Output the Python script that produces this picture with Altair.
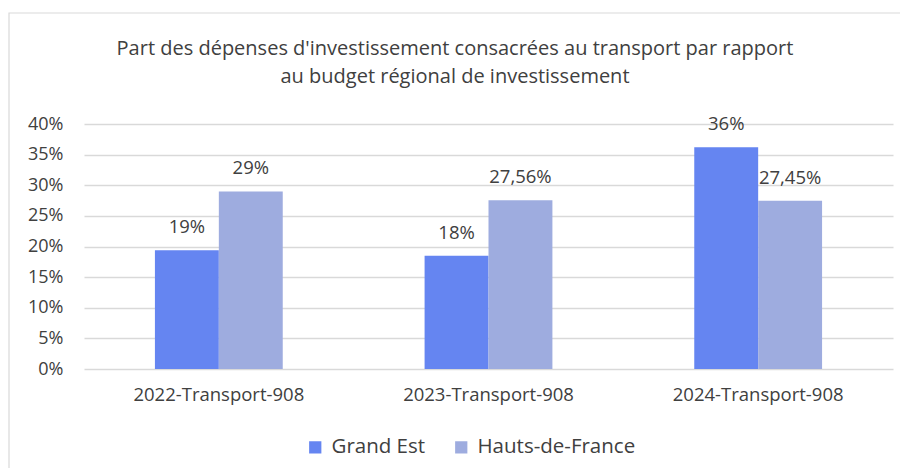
import altair as alt
import pandas as pd

categories = ["2022-Transport-908", "2023-Transport-908", "2024-Transport-908"]
series = ["Grand Est", "Hauts-de-France"]
grand_est = [19.4, 18.5, 36.2]
hauts_de_france = [29.0, 27.56, 27.45]
grand_est_labels = ["19%", "18%", "36%"]
hdf_labels = ["29%", "27,56%", "27,45%"]
colors = ["#6585f1", "#9eacdf"]
title_lines = ["Part des dépenses d'investissement consacrées au transport par rapport",
               "au budget régional de investissement"]

rows = []
for i, c in enumerate(categories):
    rows.append({"cat": c, "serie": series[0], "val": grand_est[i] / 100, "label": grand_est_labels[i]})
    rows.append({"cat": c, "serie": series[1], "val": hauts_de_france[i] / 100, "label": hdf_labels[i]})
df = pd.DataFrame(rows)

FONT = "Open Sans"
TXT = "#404040"

x = alt.X("cat:N", sort=categories, title=None,
          scale=alt.Scale(paddingInner=0.526, paddingOuter=0.263),
          axis=alt.Axis(labelAngle=0, labelFontSize=18.5, labelColor=TXT, labelFont=FONT,
                        ticks=False, domain=False, labelPadding=16))
xo = alt.XOffset("serie:N", sort=series)
y = alt.Y("val:Q", title=None,
          scale=alt.Scale(domain=[0, 0.4]),
          axis=alt.Axis(format=".0%", values=[i * 0.05 for i in range(9)], labelFontSize=18,
                        labelColor=TXT, labelFont=FONT, ticks=False, domain=False,
                        gridColor="#d9d9d9", gridWidth=1.5, labelPadding=21))

base = alt.Chart(df)
bars = base.mark_bar().encode(
    x=x, xOffset=xo, y=y,
    color=alt.Color("serie:N", sort=series, scale=alt.Scale(domain=series, range=colors),
                    legend=alt.Legend(title=None, orient="none", direction="horizontal",
                                      legendX=221, legendY=313, symbolType="square",
                                      symbolSize=150, symbolStrokeWidth=0, symbolOpacity=1,
                                      labelFontSize=20.5, labelColor=TXT, labelFont=FONT,
                                      labelLimit=400, columnPadding=25, labelOffset=6)),
)
labels = base.mark_text(baseline="alphabetic", dy=-17, fontSize=18.5, color=TXT, font=FONT).encode(
    x=x, xOffset=xo, y=y, text="label:N"
)
one = pd.DataFrame({"k": [0]})
frame = alt.Chart(one).mark_rect(fill=None, stroke="#d9d9d9", strokeWidth=1.2).encode(
    x=alt.value(-75), x2=alt.value(840), y=alt.value(-111), y2=alt.value(380)
)
title = alt.Chart(one).mark_text(text=title_lines, fontSize=20, font=FONT, color=TXT,
                                  lineHeight=28, align="center", baseline="middle").encode(
    x=alt.value(371), y=alt.value(-75)
)

chart = alt.layer(frame, title, bars, labels).properties(
    width=809, height=245,
    autosize=alt.AutoSizeParams(type="none"),
    padding={"left": 76, "top": 116, "right": 7, "bottom": 99},
).configure_view(stroke=None).configure_legend(symbolLimit=0)

chart.save("out.html", embed_options={"renderer": "svg", "actions": False})
